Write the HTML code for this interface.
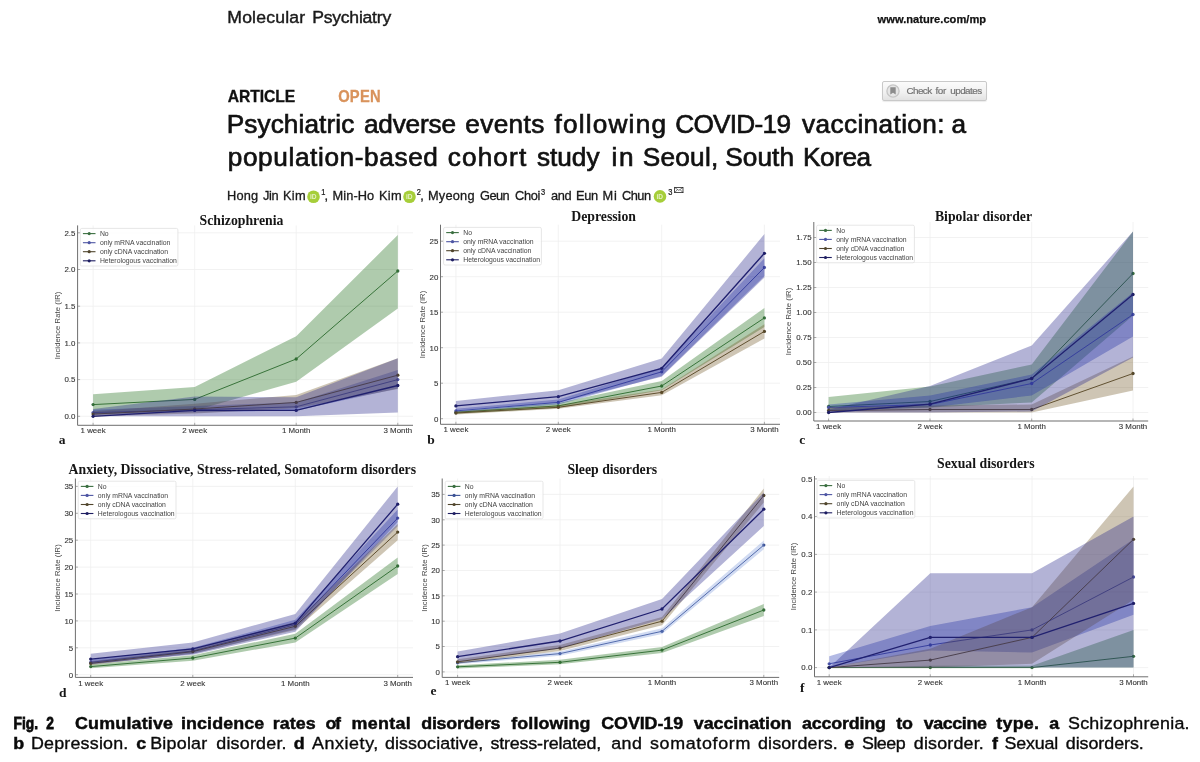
<!DOCTYPE html>
<html><head><meta charset="utf-8"><title>Fig 2</title>
<style>
html,body{margin:0;padding:0;background:#fff;}
body{width:1200px;height:762px;position:relative;overflow:hidden;font-family:"Liberation Sans",sans-serif;color:#111;}
.abs{position:absolute;white-space:nowrap;line-height:1;}
#journal{left:228px;top:8.5px;font-size:17.2px;letter-spacing:0.1px;color:#1a1a1a;}
#url{left:876.5px;top:13.8px;font-size:11.2px;font-weight:bold;color:#111;}
#art{left:227.5px;top:88.2px;font-size:15.6px;font-weight:bold;color:#111;}
#open{left:338px;top:88.2px;font-size:15.6px;font-weight:bold;color:#d8935c;}
#t1{left:227.5px;top:111.5px;font-size:25.6px;color:#111;}
#t2{left:227.5px;top:145px;font-size:25.6px;color:#111;}
#auth{left:228px;top:188.5px;font-size:12.8px;color:#1a1a1a;}
#auth sup{font-size:8px;vertical-align:baseline;position:relative;top:-4.5px;}
.orc{display:inline-block;width:11.5px;height:11.5px;border-radius:50%;background:#a6ce39;vertical-align:-2.4px;margin:0 1.5px 0 2px;position:relative;}
.orc:before{content:"iD";position:absolute;left:0;right:0;top:2.3px;text-align:center;font-size:6.5px;font-weight:bold;color:#e8f3c9;line-height:1;}
#btn{left:881.6px;top:81.2px;width:105.2px;height:19.6px;border:1px solid #c9c9c9;border-radius:2px;box-sizing:border-box;background:linear-gradient(#fbfbfb,#f0f0f0 60%,#e2e2e2);box-shadow:0 1px 1px rgba(0,0,0,.08);}
#btn span{position:absolute;left:24px;top:4.2px;font-size:9.8px;color:#7a7a7a;}
#cap1,#cap2{left:14.3px;font-size:16px;color:#0a0a0a;}
#cap1{top:715.2px;font-weight:bold;}
#cap2{top:735.2px;}
svg#figs{position:absolute;left:0;top:0;}
#charts{filter:blur(0.35px);}
#txt,#icons{filter:blur(0.25px);}
svg text{font-family:"Liberation Sans",sans-serif;}
.gr{stroke:#efefef;stroke-width:0.8;}
.sp{fill:none;stroke:#666;stroke-width:0.95;}
.tk{stroke:#777;stroke-width:0.6;}
.tl{font-size:7.9px;fill:#363636;stroke:#363636;stroke-width:0.12px;}
.yl{font-size:7.6px;fill:#444;}
.lg{font-size:6.85px;fill:#444;}
.tt{font-family:"Liberation Serif",serif !important;font-weight:bold;font-size:13.75px;fill:#151515;}
.lt{font-family:"Liberation Serif",serif !important;font-weight:bold;font-size:13.5px;fill:#151515;}
</style></head>
<body>
<div id="btn" class="abs"><svg width="16" height="16" viewBox="0 0 16 16" style="position:absolute;left:2.2px;top:0.6px;filter:blur(0.3px)"><circle cx="8" cy="8" r="6.1" fill="#e6e6e6" stroke="#c6c6c6" stroke-width="1.3"/><path d="M5.3 4.3h5.4v7.3L8 9.7l-2.7 1.9z" fill="#8c8c8c"/></svg></div>
<svg id="figs" width="1200" height="762" viewBox="0 0 1200 762">
<g id="icons"><circle cx="313.5" cy="196.8" r="6.3" fill="#a6ce39"/><text x="309.9" y="199.20000000000002" style="font-size:6.6px;font-weight:bold" fill="#e4f1c4">iD</text><circle cx="409.5" cy="196.8" r="6.3" fill="#a6ce39"/><text x="405.9" y="199.20000000000002" style="font-size:6.6px;font-weight:bold" fill="#e4f1c4">iD</text><circle cx="660" cy="196.4" r="6.3" fill="#a6ce39"/><text x="656.4" y="198.8" style="font-size:6.6px;font-weight:bold" fill="#e4f1c4">iD</text><g transform="translate(674.2,187)"><rect x="0.4" y="0.4" width="8.4" height="5.2" fill="none" stroke="#222" stroke-width="0.8"/><path d="M0.4 0.4L4.6 3.4L8.8 0.4M0.4 5.6L3.3 2.6M8.8 5.6L5.9 2.6" fill="none" stroke="#222" stroke-width="0.6"/></g></g><g id="charts"><g id="ca">
<line x1="93.1" y1="225.4" x2="93.1" y2="425.3" class="gr"/>
<line x1="194.7" y1="225.4" x2="194.7" y2="425.3" class="gr"/>
<line x1="296.2" y1="225.4" x2="296.2" y2="425.3" class="gr"/>
<line x1="397.8" y1="225.4" x2="397.8" y2="425.3" class="gr"/>
<line x1="77.6" y1="416.3" x2="413.0" y2="416.3" class="gr"/>
<line x1="77.6" y1="379.6" x2="413.0" y2="379.6" class="gr"/>
<line x1="77.6" y1="342.9" x2="413.0" y2="342.9" class="gr"/>
<line x1="77.6" y1="306.2" x2="413.0" y2="306.2" class="gr"/>
<line x1="77.6" y1="269.5" x2="413.0" y2="269.5" class="gr"/>
<line x1="77.6" y1="232.8" x2="413.0" y2="232.8" class="gr"/>
<polyline points="93.1,404.6 194.7,399.4 296.2,359.0 397.8,271.0" fill="none" stroke="#3a6e40" stroke-width="0.95"/>
<circle cx="93.1" cy="404.6" r="1.65" fill="#3a6e40"/>
<circle cx="194.7" cy="399.4" r="1.65" fill="#3a6e40"/>
<circle cx="296.2" cy="359.0" r="1.65" fill="#3a6e40"/>
<circle cx="397.8" cy="271.0" r="1.65" fill="#3a6e40"/>
<polygon points="93.1,394.3 194.7,386.9 296.2,336.3 397.8,235.0 397.8,308.4 296.2,381.8 194.7,410.4 93.1,414.1" fill="#22701c" fill-opacity="0.36"/>
<polyline points="93.1,412.6 194.7,409.7 296.2,406.8 397.8,379.6" fill="none" stroke="#4d55a3" stroke-width="0.95"/>
<circle cx="93.1" cy="412.6" r="1.65" fill="#4d55a3"/>
<circle cx="194.7" cy="409.7" r="1.65" fill="#4d55a3"/>
<circle cx="296.2" cy="406.8" r="1.65" fill="#4d55a3"/>
<circle cx="397.8" cy="379.6" r="1.65" fill="#4d55a3"/>
<polygon points="93.1,409.7 194.7,406.0 296.2,402.4 397.8,370.1 397.8,388.4 296.2,410.4 194.7,412.6 93.1,414.8" fill="#1e32af" fill-opacity="0.34"/>
<polyline points="93.1,414.1 194.7,409.0 296.2,402.4 397.8,375.2" fill="none" stroke="#50452c" stroke-width="0.95"/>
<circle cx="93.1" cy="414.1" r="1.65" fill="#50452c"/>
<circle cx="194.7" cy="409.0" r="1.65" fill="#50452c"/>
<circle cx="296.2" cy="402.4" r="1.65" fill="#50452c"/>
<circle cx="397.8" cy="375.2" r="1.65" fill="#50452c"/>
<polygon points="93.1,411.2 194.7,403.8 296.2,395.0 397.8,358.3 397.8,389.1 296.2,408.2 194.7,413.4 93.1,416.3" fill="#705423" fill-opacity="0.34"/>
<polyline points="93.1,416.3 194.7,410.4 296.2,410.4 397.8,385.5" fill="none" stroke="#1e1e62" stroke-width="1.3"/>
<circle cx="93.1" cy="416.3" r="1.65" fill="#1e1e62"/>
<circle cx="194.7" cy="410.4" r="1.65" fill="#1e1e62"/>
<circle cx="296.2" cy="410.4" r="1.65" fill="#1e1e62"/>
<circle cx="397.8" cy="385.5" r="1.65" fill="#1e1e62"/>
<polygon points="93.1,409.0 194.7,396.5 296.2,397.2 397.8,358.3 397.8,412.6 296.2,416.3 194.7,416.3 93.1,416.3" fill="#26268a" fill-opacity="0.35"/>
<path d="M77.6 225.4V425.3H413.0" class="sp"/>
<line x1="93.1" y1="425.3" x2="93.1" y2="422.8" class="tk"/>
<line x1="194.7" y1="425.3" x2="194.7" y2="422.8" class="tk"/>
<line x1="296.2" y1="425.3" x2="296.2" y2="422.8" class="tk"/>
<line x1="397.8" y1="425.3" x2="397.8" y2="422.8" class="tk"/>
<line x1="77.6" y1="416.3" x2="80.1" y2="416.3" class="tk"/>
<line x1="77.6" y1="379.6" x2="80.1" y2="379.6" class="tk"/>
<line x1="77.6" y1="342.9" x2="80.1" y2="342.9" class="tk"/>
<line x1="77.6" y1="306.2" x2="80.1" y2="306.2" class="tk"/>
<line x1="77.6" y1="269.5" x2="80.1" y2="269.5" class="tk"/>
<line x1="77.6" y1="232.8" x2="80.1" y2="232.8" class="tk"/>
<text x="93.1" y="433.2" class="tl" text-anchor="middle">1 week</text>
<text x="194.7" y="433.2" class="tl" text-anchor="middle">2 week</text>
<text x="296.2" y="433.2" class="tl" text-anchor="middle">1 Month</text>
<text x="397.8" y="433.2" class="tl" text-anchor="middle">3 Month</text>
<text x="75.4" y="419.1" class="tl" text-anchor="end">0.0</text>
<text x="75.4" y="382.4" class="tl" text-anchor="end">0.5</text>
<text x="75.4" y="345.7" class="tl" text-anchor="end">1.0</text>
<text x="75.4" y="309.0" class="tl" text-anchor="end">1.5</text>
<text x="75.4" y="272.3" class="tl" text-anchor="end">2.0</text>
<text x="75.4" y="235.6" class="tl" text-anchor="end">2.5</text>
<text transform="translate(59.5,325.4) rotate(-90)" class="yl" text-anchor="middle" textLength="67.5" lengthAdjust="spacing">Incidence Rate (IR)</text>
<rect x="80.3" y="228.4" width="97.6" height="37.6" rx="1.5" fill="#fff" fill-opacity="0.8" stroke="#dcdcdc" stroke-width="0.7"/>
<line x1="82.9" y1="233.6" x2="95.5" y2="233.6" stroke="#3a6e40" stroke-width="1.1"/>
<circle cx="89.2" cy="233.6" r="1.6" fill="#3a6e40"/>
<text x="99.9" y="235.9" class="lg">No</text>
<line x1="82.9" y1="242.7" x2="95.5" y2="242.7" stroke="#4d55a3" stroke-width="1.1"/>
<circle cx="89.2" cy="242.7" r="1.6" fill="#4d55a3"/>
<text x="99.9" y="245.0" class="lg">only mRNA vaccination</text>
<line x1="82.9" y1="251.7" x2="95.5" y2="251.7" stroke="#50452c" stroke-width="1.1"/>
<circle cx="89.2" cy="251.7" r="1.6" fill="#50452c"/>
<text x="99.9" y="254.0" class="lg">only cDNA vaccination</text>
<line x1="82.9" y1="260.8" x2="95.5" y2="260.8" stroke="#1e1e62" stroke-width="1.1"/>
<circle cx="89.2" cy="260.8" r="1.6" fill="#1e1e62"/>
<text x="99.9" y="263.1" class="lg">Heterologous vaccination</text>
<text x="241.5" y="225.0" class="tt" text-anchor="middle">Schizophrenia</text>
<text x="62.0" y="443.5" class="lt" text-anchor="middle">a</text>
</g>
<g id="cb">
<line x1="455.9" y1="224.7" x2="455.9" y2="424.3" class="gr"/>
<line x1="558.3" y1="224.7" x2="558.3" y2="424.3" class="gr"/>
<line x1="661.7" y1="224.7" x2="661.7" y2="424.3" class="gr"/>
<line x1="764.4" y1="224.7" x2="764.4" y2="424.3" class="gr"/>
<line x1="440.5" y1="418.7" x2="780.0" y2="418.7" class="gr"/>
<line x1="440.5" y1="383.2" x2="780.0" y2="383.2" class="gr"/>
<line x1="440.5" y1="347.7" x2="780.0" y2="347.7" class="gr"/>
<line x1="440.5" y1="312.2" x2="780.0" y2="312.2" class="gr"/>
<line x1="440.5" y1="276.7" x2="780.0" y2="276.7" class="gr"/>
<line x1="440.5" y1="241.2" x2="780.0" y2="241.2" class="gr"/>
<polyline points="455.9,412.3 558.3,405.9 661.7,386.0 764.4,317.9" fill="none" stroke="#3a6e40" stroke-width="0.95"/>
<circle cx="455.9" cy="412.3" r="1.65" fill="#3a6e40"/>
<circle cx="558.3" cy="405.9" r="1.65" fill="#3a6e40"/>
<circle cx="661.7" cy="386.0" r="1.65" fill="#3a6e40"/>
<circle cx="764.4" cy="317.9" r="1.65" fill="#3a6e40"/>
<polygon points="455.9,410.9 558.3,403.1 661.7,381.1 764.4,307.9 764.4,327.1 661.7,390.3 558.3,408.1 455.9,413.7" fill="#22701c" fill-opacity="0.36"/>
<polyline points="455.9,410.9 558.3,402.4 661.7,371.8 764.4,267.5" fill="none" stroke="#4d55a3" stroke-width="0.95"/>
<circle cx="455.9" cy="410.9" r="1.65" fill="#4d55a3"/>
<circle cx="558.3" cy="402.4" r="1.65" fill="#4d55a3"/>
<circle cx="661.7" cy="371.8" r="1.65" fill="#4d55a3"/>
<circle cx="764.4" cy="267.5" r="1.65" fill="#4d55a3"/>
<polygon points="455.9,408.8 558.3,399.5 661.7,367.6 764.4,258.2 764.4,276.0 661.7,376.1 558.3,404.5 455.9,412.3" fill="#1e32af" fill-opacity="0.34"/>
<polyline points="455.9,413.0 558.3,407.3 661.7,392.4 764.4,331.4" fill="none" stroke="#50452c" stroke-width="0.95"/>
<circle cx="455.9" cy="413.0" r="1.65" fill="#50452c"/>
<circle cx="558.3" cy="407.3" r="1.65" fill="#50452c"/>
<circle cx="661.7" cy="392.4" r="1.65" fill="#50452c"/>
<circle cx="764.4" cy="331.4" r="1.65" fill="#50452c"/>
<polygon points="455.9,411.6 558.3,405.2 661.7,389.6 764.4,324.3 764.4,338.5 661.7,395.3 558.3,408.8 455.9,414.4" fill="#705423" fill-opacity="0.34"/>
<polyline points="455.9,405.9 558.3,396.7 661.7,368.3 764.4,253.3" fill="none" stroke="#1e1e62" stroke-width="1.3"/>
<circle cx="455.9" cy="405.9" r="1.65" fill="#1e1e62"/>
<circle cx="558.3" cy="396.7" r="1.65" fill="#1e1e62"/>
<circle cx="661.7" cy="368.3" r="1.65" fill="#1e1e62"/>
<circle cx="764.4" cy="253.3" r="1.65" fill="#1e1e62"/>
<polygon points="455.9,400.9 558.3,390.3 661.7,358.4 764.4,234.1 764.4,277.4 661.7,376.8 558.3,402.4 455.9,410.2" fill="#26268a" fill-opacity="0.35"/>
<path d="M440.5 224.7V424.3H780.0" class="sp"/>
<line x1="455.9" y1="424.3" x2="455.9" y2="421.8" class="tk"/>
<line x1="558.3" y1="424.3" x2="558.3" y2="421.8" class="tk"/>
<line x1="661.7" y1="424.3" x2="661.7" y2="421.8" class="tk"/>
<line x1="764.4" y1="424.3" x2="764.4" y2="421.8" class="tk"/>
<line x1="440.5" y1="418.7" x2="443.0" y2="418.7" class="tk"/>
<line x1="440.5" y1="383.2" x2="443.0" y2="383.2" class="tk"/>
<line x1="440.5" y1="347.7" x2="443.0" y2="347.7" class="tk"/>
<line x1="440.5" y1="312.2" x2="443.0" y2="312.2" class="tk"/>
<line x1="440.5" y1="276.7" x2="443.0" y2="276.7" class="tk"/>
<line x1="440.5" y1="241.2" x2="443.0" y2="241.2" class="tk"/>
<text x="455.9" y="431.8" class="tl" text-anchor="middle">1 week</text>
<text x="558.3" y="431.8" class="tl" text-anchor="middle">2 week</text>
<text x="661.7" y="431.8" class="tl" text-anchor="middle">1 Month</text>
<text x="764.4" y="431.8" class="tl" text-anchor="middle">3 Month</text>
<text x="438.3" y="421.5" class="tl" text-anchor="end">0</text>
<text x="438.3" y="386.0" class="tl" text-anchor="end">5</text>
<text x="438.3" y="350.5" class="tl" text-anchor="end">10</text>
<text x="438.3" y="315.0" class="tl" text-anchor="end">15</text>
<text x="438.3" y="279.5" class="tl" text-anchor="end">20</text>
<text x="438.3" y="244.0" class="tl" text-anchor="end">25</text>
<text transform="translate(424.8,324.5) rotate(-90)" class="yl" text-anchor="middle" textLength="67.5" lengthAdjust="spacing">Incidence Rate (IR)</text>
<rect x="443.6" y="227.4" width="97.8" height="37.6" rx="1.5" fill="#fff" fill-opacity="0.8" stroke="#dcdcdc" stroke-width="0.7"/>
<line x1="446.2" y1="232.6" x2="458.8" y2="232.6" stroke="#3a6e40" stroke-width="1.1"/>
<circle cx="452.5" cy="232.6" r="1.6" fill="#3a6e40"/>
<text x="463.2" y="234.9" class="lg">No</text>
<line x1="446.2" y1="241.7" x2="458.8" y2="241.7" stroke="#4d55a3" stroke-width="1.1"/>
<circle cx="452.5" cy="241.7" r="1.6" fill="#4d55a3"/>
<text x="463.2" y="244.0" class="lg">only mRNA vaccination</text>
<line x1="446.2" y1="250.7" x2="458.8" y2="250.7" stroke="#50452c" stroke-width="1.1"/>
<circle cx="452.5" cy="250.7" r="1.6" fill="#50452c"/>
<text x="463.2" y="253.0" class="lg">only cDNA vaccination</text>
<line x1="446.2" y1="259.8" x2="458.8" y2="259.8" stroke="#1e1e62" stroke-width="1.1"/>
<circle cx="452.5" cy="259.8" r="1.6" fill="#1e1e62"/>
<text x="463.2" y="262.1" class="lg">Heterologous vaccination</text>
<text x="603.6" y="220.8" class="tt" text-anchor="middle">Depression</text>
<text x="431.0" y="443.5" class="lt" text-anchor="middle">b</text>
</g>
<g id="cc">
<line x1="828.6" y1="222.0" x2="828.6" y2="421.0" class="gr"/>
<line x1="930.0" y1="222.0" x2="930.0" y2="421.0" class="gr"/>
<line x1="1031.7" y1="222.0" x2="1031.7" y2="421.0" class="gr"/>
<line x1="1133.0" y1="222.0" x2="1133.0" y2="421.0" class="gr"/>
<line x1="813.8" y1="412.5" x2="1148.2" y2="412.5" class="gr"/>
<line x1="813.8" y1="387.5" x2="1148.2" y2="387.5" class="gr"/>
<line x1="813.8" y1="362.5" x2="1148.2" y2="362.5" class="gr"/>
<line x1="813.8" y1="337.5" x2="1148.2" y2="337.5" class="gr"/>
<line x1="813.8" y1="312.5" x2="1148.2" y2="312.5" class="gr"/>
<line x1="813.8" y1="287.5" x2="1148.2" y2="287.5" class="gr"/>
<line x1="813.8" y1="262.5" x2="1148.2" y2="262.5" class="gr"/>
<line x1="813.8" y1="237.5" x2="1148.2" y2="237.5" class="gr"/>
<polyline points="828.6,406.5 930.0,401.5 1031.7,378.5 1133.0,273.5" fill="none" stroke="#3a6e40" stroke-width="0.95"/>
<circle cx="828.6" cy="406.5" r="1.65" fill="#3a6e40"/>
<circle cx="930.0" cy="401.5" r="1.65" fill="#3a6e40"/>
<circle cx="1031.7" cy="378.5" r="1.65" fill="#3a6e40"/>
<circle cx="1133.0" cy="273.5" r="1.65" fill="#3a6e40"/>
<polygon points="828.6,397.0 930.0,386.5 1031.7,364.5 1133.0,231.5 1133.0,315.5 1031.7,402.5 930.0,407.5 828.6,410.5" fill="#22701c" fill-opacity="0.36"/>
<polyline points="828.6,407.5 930.0,404.5 1031.7,383.5 1133.0,314.5" fill="none" stroke="#4d55a3" stroke-width="0.95"/>
<circle cx="828.6" cy="407.5" r="1.65" fill="#4d55a3"/>
<circle cx="930.0" cy="404.5" r="1.65" fill="#4d55a3"/>
<circle cx="1031.7" cy="383.5" r="1.65" fill="#4d55a3"/>
<circle cx="1133.0" cy="314.5" r="1.65" fill="#4d55a3"/>
<polygon points="828.6,404.5 930.0,395.5 1031.7,374.5 1133.0,292.5 1133.0,336.5 1031.7,395.5 930.0,407.5 828.6,410.5" fill="#1e32af" fill-opacity="0.34"/>
<polyline points="828.6,410.5 930.0,409.5 1031.7,409.5 1133.0,373.5" fill="none" stroke="#50452c" stroke-width="0.95"/>
<circle cx="828.6" cy="410.5" r="1.65" fill="#50452c"/>
<circle cx="930.0" cy="409.5" r="1.65" fill="#50452c"/>
<circle cx="1031.7" cy="409.5" r="1.65" fill="#50452c"/>
<circle cx="1133.0" cy="373.5" r="1.65" fill="#50452c"/>
<polygon points="828.6,407.5 930.0,405.5 1031.7,404.5 1133.0,356.5 1133.0,390.5 1031.7,412.5 930.0,412.5 828.6,412.5" fill="#705423" fill-opacity="0.34"/>
<polyline points="828.6,412.5 930.0,404.2 1031.7,378.5 1133.0,294.5" fill="none" stroke="#1e1e62" stroke-width="1.3"/>
<circle cx="828.6" cy="412.5" r="1.65" fill="#1e1e62"/>
<circle cx="930.0" cy="404.2" r="1.65" fill="#1e1e62"/>
<circle cx="1031.7" cy="378.5" r="1.65" fill="#1e1e62"/>
<circle cx="1133.0" cy="294.5" r="1.65" fill="#1e1e62"/>
<polygon points="828.6,409.5 930.0,386.0 1031.7,345.5 1133.0,231.5 1133.0,357.5 1031.7,411.5 930.0,412.5 828.6,412.5" fill="#26268a" fill-opacity="0.35"/>
<path d="M813.8 222.0V421.0H1148.2" class="sp"/>
<line x1="828.6" y1="421.0" x2="828.6" y2="418.5" class="tk"/>
<line x1="930.0" y1="421.0" x2="930.0" y2="418.5" class="tk"/>
<line x1="1031.7" y1="421.0" x2="1031.7" y2="418.5" class="tk"/>
<line x1="1133.0" y1="421.0" x2="1133.0" y2="418.5" class="tk"/>
<line x1="813.8" y1="412.5" x2="816.3" y2="412.5" class="tk"/>
<line x1="813.8" y1="387.5" x2="816.3" y2="387.5" class="tk"/>
<line x1="813.8" y1="362.5" x2="816.3" y2="362.5" class="tk"/>
<line x1="813.8" y1="337.5" x2="816.3" y2="337.5" class="tk"/>
<line x1="813.8" y1="312.5" x2="816.3" y2="312.5" class="tk"/>
<line x1="813.8" y1="287.5" x2="816.3" y2="287.5" class="tk"/>
<line x1="813.8" y1="262.5" x2="816.3" y2="262.5" class="tk"/>
<line x1="813.8" y1="237.5" x2="816.3" y2="237.5" class="tk"/>
<text x="828.6" y="428.9" class="tl" text-anchor="middle">1 week</text>
<text x="930.0" y="428.9" class="tl" text-anchor="middle">2 week</text>
<text x="1031.7" y="428.9" class="tl" text-anchor="middle">1 Month</text>
<text x="1133.0" y="428.9" class="tl" text-anchor="middle">3 Month</text>
<text x="811.6" y="415.3" class="tl" text-anchor="end">0.00</text>
<text x="811.6" y="390.3" class="tl" text-anchor="end">0.25</text>
<text x="811.6" y="365.3" class="tl" text-anchor="end">0.50</text>
<text x="811.6" y="340.3" class="tl" text-anchor="end">0.75</text>
<text x="811.6" y="315.3" class="tl" text-anchor="end">1.00</text>
<text x="811.6" y="290.3" class="tl" text-anchor="end">1.25</text>
<text x="811.6" y="265.3" class="tl" text-anchor="end">1.50</text>
<text x="811.6" y="240.3" class="tl" text-anchor="end">1.75</text>
<text transform="translate(790.7,321.5) rotate(-90)" class="yl" text-anchor="middle" textLength="67.5" lengthAdjust="spacing">Incidence Rate (IR)</text>
<rect x="816.6" y="225.2" width="97.8" height="37.6" rx="1.5" fill="#fff" fill-opacity="0.8" stroke="#dcdcdc" stroke-width="0.7"/>
<line x1="819.2" y1="230.4" x2="831.8" y2="230.4" stroke="#3a6e40" stroke-width="1.1"/>
<circle cx="825.5" cy="230.4" r="1.6" fill="#3a6e40"/>
<text x="836.2" y="232.7" class="lg">No</text>
<line x1="819.2" y1="239.4" x2="831.8" y2="239.4" stroke="#4d55a3" stroke-width="1.1"/>
<circle cx="825.5" cy="239.4" r="1.6" fill="#4d55a3"/>
<text x="836.2" y="241.8" class="lg">only mRNA vaccination</text>
<line x1="819.2" y1="248.5" x2="831.8" y2="248.5" stroke="#50452c" stroke-width="1.1"/>
<circle cx="825.5" cy="248.5" r="1.6" fill="#50452c"/>
<text x="836.2" y="250.8" class="lg">only cDNA vaccination</text>
<line x1="819.2" y1="257.5" x2="831.8" y2="257.5" stroke="#1e1e62" stroke-width="1.1"/>
<circle cx="825.5" cy="257.5" r="1.6" fill="#1e1e62"/>
<text x="836.2" y="259.8" class="lg">Heterologous vaccination</text>
<text x="983.5" y="220.8" class="tt" text-anchor="middle">Bipolar disorder</text>
<text x="802.3" y="443.5" class="lt" text-anchor="middle">c</text>
</g>
<g id="cd">
<line x1="90.7" y1="478.5" x2="90.7" y2="677.4" class="gr"/>
<line x1="192.8" y1="478.5" x2="192.8" y2="677.4" class="gr"/>
<line x1="295.3" y1="478.5" x2="295.3" y2="677.4" class="gr"/>
<line x1="397.7" y1="478.5" x2="397.7" y2="677.4" class="gr"/>
<line x1="75.4" y1="674.7" x2="413.0" y2="674.7" class="gr"/>
<line x1="75.4" y1="647.8" x2="413.0" y2="647.8" class="gr"/>
<line x1="75.4" y1="620.9" x2="413.0" y2="620.9" class="gr"/>
<line x1="75.4" y1="594.0" x2="413.0" y2="594.0" class="gr"/>
<line x1="75.4" y1="567.1" x2="413.0" y2="567.1" class="gr"/>
<line x1="75.4" y1="540.2" x2="413.0" y2="540.2" class="gr"/>
<line x1="75.4" y1="513.3" x2="413.0" y2="513.3" class="gr"/>
<line x1="75.4" y1="486.4" x2="413.0" y2="486.4" class="gr"/>
<polyline points="90.7,666.6 192.8,658.0 295.3,638.1 397.7,566.0" fill="none" stroke="#3a6e40" stroke-width="0.95"/>
<circle cx="90.7" cy="666.6" r="1.65" fill="#3a6e40"/>
<circle cx="192.8" cy="658.0" r="1.65" fill="#3a6e40"/>
<circle cx="295.3" cy="638.1" r="1.65" fill="#3a6e40"/>
<circle cx="397.7" cy="566.0" r="1.65" fill="#3a6e40"/>
<polygon points="90.7,664.5 192.8,655.3 295.3,633.8 397.7,557.4 397.7,574.1 295.3,642.4 192.8,660.7 90.7,668.2" fill="#22701c" fill-opacity="0.36"/>
<polyline points="90.7,662.3 192.8,651.0 295.3,624.7 397.7,518.1" fill="none" stroke="#4d55a3" stroke-width="0.95"/>
<circle cx="90.7" cy="662.3" r="1.65" fill="#4d55a3"/>
<circle cx="192.8" cy="651.0" r="1.65" fill="#4d55a3"/>
<circle cx="295.3" cy="624.7" r="1.65" fill="#4d55a3"/>
<circle cx="397.7" cy="518.1" r="1.65" fill="#4d55a3"/>
<polygon points="90.7,659.6 192.8,647.8 295.3,619.8 397.7,509.5 397.7,526.2 295.3,629.0 192.8,653.7 90.7,664.5" fill="#1e32af" fill-opacity="0.34"/>
<polyline points="90.7,663.4 192.8,651.6 295.3,626.3 397.7,532.1" fill="none" stroke="#50452c" stroke-width="0.95"/>
<circle cx="90.7" cy="663.4" r="1.65" fill="#50452c"/>
<circle cx="192.8" cy="651.6" r="1.65" fill="#50452c"/>
<circle cx="295.3" cy="626.3" r="1.65" fill="#50452c"/>
<circle cx="397.7" cy="532.1" r="1.65" fill="#50452c"/>
<polygon points="90.7,661.2 192.8,648.9 295.3,622.0 397.7,524.1 397.7,540.2 295.3,630.0 192.8,653.7 90.7,665.0" fill="#705423" fill-opacity="0.34"/>
<polyline points="90.7,659.1 192.8,648.9 295.3,623.1 397.7,504.2" fill="none" stroke="#1e1e62" stroke-width="1.3"/>
<circle cx="90.7" cy="659.1" r="1.65" fill="#1e1e62"/>
<circle cx="192.8" cy="648.9" r="1.65" fill="#1e1e62"/>
<circle cx="295.3" cy="623.1" r="1.65" fill="#1e1e62"/>
<circle cx="397.7" cy="504.2" r="1.65" fill="#1e1e62"/>
<polygon points="90.7,653.7 192.8,642.4 295.3,613.9 397.7,486.4 397.7,521.9 295.3,631.7 192.8,654.8 90.7,663.9" fill="#26268a" fill-opacity="0.35"/>
<path d="M75.4 478.5V677.4H413.0" class="sp"/>
<line x1="90.7" y1="677.4" x2="90.7" y2="674.9" class="tk"/>
<line x1="192.8" y1="677.4" x2="192.8" y2="674.9" class="tk"/>
<line x1="295.3" y1="677.4" x2="295.3" y2="674.9" class="tk"/>
<line x1="397.7" y1="677.4" x2="397.7" y2="674.9" class="tk"/>
<line x1="75.4" y1="674.7" x2="77.9" y2="674.7" class="tk"/>
<line x1="75.4" y1="647.8" x2="77.9" y2="647.8" class="tk"/>
<line x1="75.4" y1="620.9" x2="77.9" y2="620.9" class="tk"/>
<line x1="75.4" y1="594.0" x2="77.9" y2="594.0" class="tk"/>
<line x1="75.4" y1="567.1" x2="77.9" y2="567.1" class="tk"/>
<line x1="75.4" y1="540.2" x2="77.9" y2="540.2" class="tk"/>
<line x1="75.4" y1="513.3" x2="77.9" y2="513.3" class="tk"/>
<line x1="75.4" y1="486.4" x2="77.9" y2="486.4" class="tk"/>
<text x="90.7" y="685.6" class="tl" text-anchor="middle">1 week</text>
<text x="192.8" y="685.6" class="tl" text-anchor="middle">2 week</text>
<text x="295.3" y="685.6" class="tl" text-anchor="middle">1 Month</text>
<text x="397.7" y="685.6" class="tl" text-anchor="middle">3 Month</text>
<text x="73.2" y="677.5" class="tl" text-anchor="end">0</text>
<text x="73.2" y="650.6" class="tl" text-anchor="end">5</text>
<text x="73.2" y="623.7" class="tl" text-anchor="end">10</text>
<text x="73.2" y="596.8" class="tl" text-anchor="end">15</text>
<text x="73.2" y="569.9" class="tl" text-anchor="end">20</text>
<text x="73.2" y="543.0" class="tl" text-anchor="end">25</text>
<text x="73.2" y="516.1" class="tl" text-anchor="end">30</text>
<text x="73.2" y="489.2" class="tl" text-anchor="end">35</text>
<text transform="translate(59.7,578.0) rotate(-90)" class="yl" text-anchor="middle" textLength="67.5" lengthAdjust="spacing">Incidence Rate (IR)</text>
<rect x="78.2" y="481.2" width="97.8" height="37.6" rx="1.5" fill="#fff" fill-opacity="0.8" stroke="#dcdcdc" stroke-width="0.7"/>
<line x1="80.8" y1="486.4" x2="93.4" y2="486.4" stroke="#3a6e40" stroke-width="1.1"/>
<circle cx="87.1" cy="486.4" r="1.6" fill="#3a6e40"/>
<text x="97.8" y="488.7" class="lg">No</text>
<line x1="80.8" y1="495.4" x2="93.4" y2="495.4" stroke="#4d55a3" stroke-width="1.1"/>
<circle cx="87.1" cy="495.4" r="1.6" fill="#4d55a3"/>
<text x="97.8" y="497.8" class="lg">only mRNA vaccination</text>
<line x1="80.8" y1="504.5" x2="93.4" y2="504.5" stroke="#50452c" stroke-width="1.1"/>
<circle cx="87.1" cy="504.5" r="1.6" fill="#50452c"/>
<text x="97.8" y="506.8" class="lg">only cDNA vaccination</text>
<line x1="80.8" y1="513.5" x2="93.4" y2="513.5" stroke="#1e1e62" stroke-width="1.1"/>
<circle cx="87.1" cy="513.5" r="1.6" fill="#1e1e62"/>
<text x="97.8" y="515.8" class="lg">Heterologous vaccination</text>
<text x="242.3" y="474.0" class="tt" text-anchor="middle">Anxiety, Dissociative, Stress-related, Somatoform disorders</text>
<text x="62.8" y="697.0" class="lt" text-anchor="middle">d</text>
</g>
<g id="ce">
<line x1="457.6" y1="478.5" x2="457.6" y2="677.4" class="gr"/>
<line x1="560.0" y1="478.5" x2="560.0" y2="677.4" class="gr"/>
<line x1="662.0" y1="478.5" x2="662.0" y2="677.4" class="gr"/>
<line x1="763.8" y1="478.5" x2="763.8" y2="677.4" class="gr"/>
<line x1="442.2" y1="671.9" x2="779.2" y2="671.9" class="gr"/>
<line x1="442.2" y1="646.5" x2="779.2" y2="646.5" class="gr"/>
<line x1="442.2" y1="621.2" x2="779.2" y2="621.2" class="gr"/>
<line x1="442.2" y1="595.8" x2="779.2" y2="595.8" class="gr"/>
<line x1="442.2" y1="570.5" x2="779.2" y2="570.5" class="gr"/>
<line x1="442.2" y1="545.1" x2="779.2" y2="545.1" class="gr"/>
<line x1="442.2" y1="519.8" x2="779.2" y2="519.8" class="gr"/>
<line x1="442.2" y1="494.4" x2="779.2" y2="494.4" class="gr"/>
<polyline points="457.6,666.8 560.0,662.3 662.0,650.1 763.8,610.0" fill="none" stroke="#3a6e40" stroke-width="0.95"/>
<circle cx="457.6" cy="666.8" r="1.65" fill="#3a6e40"/>
<circle cx="560.0" cy="662.3" r="1.65" fill="#3a6e40"/>
<circle cx="662.0" cy="650.1" r="1.65" fill="#3a6e40"/>
<circle cx="763.8" cy="610.0" r="1.65" fill="#3a6e40"/>
<polygon points="457.6,665.3 560.0,659.7 662.0,647.1 763.8,604.0 763.8,616.1 662.0,653.1 560.0,664.3 457.6,668.4" fill="#22701c" fill-opacity="0.36"/>
<polyline points="457.6,662.8 560.0,653.6 662.0,631.3 763.8,545.1" fill="none" stroke="#3c5294" stroke-width="0.95"/>
<circle cx="457.6" cy="662.8" r="1.65" fill="#3c5294"/>
<circle cx="560.0" cy="653.6" r="1.65" fill="#3c5294"/>
<circle cx="662.0" cy="631.3" r="1.65" fill="#3c5294"/>
<circle cx="763.8" cy="545.1" r="1.65" fill="#3c5294"/>
<polygon points="457.6,661.3 560.0,651.6 662.0,628.3 763.8,540.6 763.8,549.2 662.0,633.9 560.0,655.7 457.6,664.3" fill="#6f8fd6" fill-opacity="0.32"/>
<polyline points="457.6,661.8 560.0,648.1 662.0,621.2 763.8,495.5" fill="none" stroke="#50452c" stroke-width="0.95"/>
<circle cx="457.6" cy="661.8" r="1.65" fill="#50452c"/>
<circle cx="560.0" cy="648.1" r="1.65" fill="#50452c"/>
<circle cx="662.0" cy="621.2" r="1.65" fill="#50452c"/>
<circle cx="763.8" cy="495.5" r="1.65" fill="#50452c"/>
<polygon points="457.6,659.2 560.0,645.0 662.0,617.1 763.8,488.4 763.8,502.6 662.0,625.3 560.0,651.1 457.6,663.8" fill="#705423" fill-opacity="0.34"/>
<polyline points="457.6,656.7 560.0,641.0 662.0,609.0 763.8,509.2" fill="none" stroke="#1e1e62" stroke-width="1.3"/>
<circle cx="457.6" cy="656.7" r="1.65" fill="#1e1e62"/>
<circle cx="560.0" cy="641.0" r="1.65" fill="#1e1e62"/>
<circle cx="662.0" cy="609.0" r="1.65" fill="#1e1e62"/>
<circle cx="763.8" cy="509.2" r="1.65" fill="#1e1e62"/>
<polygon points="457.6,651.6 560.0,633.4 662.0,598.9 763.8,492.4 763.8,525.9 662.0,619.2 560.0,648.6 457.6,661.8" fill="#26268a" fill-opacity="0.35"/>
<path d="M442.2 478.5V677.4H779.2" class="sp"/>
<line x1="457.6" y1="677.4" x2="457.6" y2="674.9" class="tk"/>
<line x1="560.0" y1="677.4" x2="560.0" y2="674.9" class="tk"/>
<line x1="662.0" y1="677.4" x2="662.0" y2="674.9" class="tk"/>
<line x1="763.8" y1="677.4" x2="763.8" y2="674.9" class="tk"/>
<line x1="442.2" y1="671.9" x2="444.7" y2="671.9" class="tk"/>
<line x1="442.2" y1="646.5" x2="444.7" y2="646.5" class="tk"/>
<line x1="442.2" y1="621.2" x2="444.7" y2="621.2" class="tk"/>
<line x1="442.2" y1="595.8" x2="444.7" y2="595.8" class="tk"/>
<line x1="442.2" y1="570.5" x2="444.7" y2="570.5" class="tk"/>
<line x1="442.2" y1="545.1" x2="444.7" y2="545.1" class="tk"/>
<line x1="442.2" y1="519.8" x2="444.7" y2="519.8" class="tk"/>
<line x1="442.2" y1="494.4" x2="444.7" y2="494.4" class="tk"/>
<text x="457.6" y="685.4" class="tl" text-anchor="middle">1 week</text>
<text x="560.0" y="685.4" class="tl" text-anchor="middle">2 week</text>
<text x="662.0" y="685.4" class="tl" text-anchor="middle">1 Month</text>
<text x="763.8" y="685.4" class="tl" text-anchor="middle">3 Month</text>
<text x="440.0" y="674.7" class="tl" text-anchor="end">0</text>
<text x="440.0" y="649.3" class="tl" text-anchor="end">5</text>
<text x="440.0" y="624.0" class="tl" text-anchor="end">10</text>
<text x="440.0" y="598.6" class="tl" text-anchor="end">15</text>
<text x="440.0" y="573.3" class="tl" text-anchor="end">20</text>
<text x="440.0" y="547.9" class="tl" text-anchor="end">25</text>
<text x="440.0" y="522.6" class="tl" text-anchor="end">30</text>
<text x="440.0" y="497.2" class="tl" text-anchor="end">35</text>
<text transform="translate(426.5,578.0) rotate(-90)" class="yl" text-anchor="middle" textLength="67.5" lengthAdjust="spacing">Incidence Rate (IR)</text>
<rect x="445.2" y="481.2" width="97.8" height="37.6" rx="1.5" fill="#fff" fill-opacity="0.8" stroke="#dcdcdc" stroke-width="0.7"/>
<line x1="447.8" y1="486.4" x2="460.4" y2="486.4" stroke="#3a6e40" stroke-width="1.1"/>
<circle cx="454.1" cy="486.4" r="1.6" fill="#3a6e40"/>
<text x="464.8" y="488.7" class="lg">No</text>
<line x1="447.8" y1="495.4" x2="460.4" y2="495.4" stroke="#3c5294" stroke-width="1.1"/>
<circle cx="454.1" cy="495.4" r="1.6" fill="#3c5294"/>
<text x="464.8" y="497.8" class="lg">only mRNA vaccination</text>
<line x1="447.8" y1="504.5" x2="460.4" y2="504.5" stroke="#50452c" stroke-width="1.1"/>
<circle cx="454.1" cy="504.5" r="1.6" fill="#50452c"/>
<text x="464.8" y="506.8" class="lg">only cDNA vaccination</text>
<line x1="447.8" y1="513.5" x2="460.4" y2="513.5" stroke="#1e1e62" stroke-width="1.1"/>
<circle cx="454.1" cy="513.5" r="1.6" fill="#1e1e62"/>
<text x="464.8" y="515.8" class="lg">Heterologous vaccination</text>
<text x="612.3" y="474.0" class="tt" text-anchor="middle">Sleep disorders</text>
<text x="433.5" y="694.6" class="lt" text-anchor="middle">e</text>
</g>
<g id="cf">
<line x1="829.2" y1="476.0" x2="829.2" y2="676.8" class="gr"/>
<line x1="930.3" y1="476.0" x2="930.3" y2="676.8" class="gr"/>
<line x1="1032.0" y1="476.0" x2="1032.0" y2="676.8" class="gr"/>
<line x1="1133.5" y1="476.0" x2="1133.5" y2="676.8" class="gr"/>
<line x1="814.5" y1="667.6" x2="1148.2" y2="667.6" class="gr"/>
<line x1="814.5" y1="629.9" x2="1148.2" y2="629.9" class="gr"/>
<line x1="814.5" y1="592.1" x2="1148.2" y2="592.1" class="gr"/>
<line x1="814.5" y1="554.4" x2="1148.2" y2="554.4" class="gr"/>
<line x1="814.5" y1="516.6" x2="1148.2" y2="516.6" class="gr"/>
<line x1="814.5" y1="478.9" x2="1148.2" y2="478.9" class="gr"/>
<polyline points="829.2,667.6 930.3,667.6 1032.0,667.6 1133.5,656.3" fill="none" stroke="#3a6e40" stroke-width="0.95"/>
<circle cx="829.2" cy="667.6" r="1.65" fill="#3a6e40"/>
<circle cx="930.3" cy="667.6" r="1.65" fill="#3a6e40"/>
<circle cx="1032.0" cy="667.6" r="1.65" fill="#3a6e40"/>
<circle cx="1133.5" cy="656.3" r="1.65" fill="#3a6e40"/>
<polygon points="829.2,667.6 930.3,665.7 1032.0,665.7 1133.5,629.9 1133.5,667.6 1032.0,667.6 930.3,667.6 829.2,667.6" fill="#22701c" fill-opacity="0.36"/>
<polyline points="829.2,663.8 930.3,645.0 1032.0,629.9 1133.5,577.0" fill="none" stroke="#4d55a3" stroke-width="0.95"/>
<circle cx="829.2" cy="663.8" r="1.65" fill="#4d55a3"/>
<circle cx="930.3" cy="645.0" r="1.65" fill="#4d55a3"/>
<circle cx="1032.0" cy="629.9" r="1.65" fill="#4d55a3"/>
<circle cx="1133.5" cy="577.0" r="1.65" fill="#4d55a3"/>
<polygon points="829.2,656.3 930.3,626.1 1032.0,607.2 1133.5,539.3 1133.5,614.8 1032.0,652.5 930.3,650.6 829.2,667.6" fill="#1e32af" fill-opacity="0.34"/>
<polyline points="829.2,667.6 930.3,660.1 1032.0,637.4 1133.5,539.3" fill="none" stroke="#50452c" stroke-width="0.95"/>
<circle cx="829.2" cy="667.6" r="1.65" fill="#50452c"/>
<circle cx="930.3" cy="660.1" r="1.65" fill="#50452c"/>
<circle cx="1032.0" cy="637.4" r="1.65" fill="#50452c"/>
<circle cx="1133.5" cy="539.3" r="1.65" fill="#50452c"/>
<polygon points="829.2,667.6 930.3,648.7 1032.0,607.2 1133.5,486.4 1133.5,599.7 1032.0,663.8 930.3,667.6 829.2,667.6" fill="#705423" fill-opacity="0.34"/>
<polyline points="829.2,667.6 930.3,637.4 1032.0,637.4 1133.5,603.4" fill="none" stroke="#1e1e62" stroke-width="1.3"/>
<circle cx="829.2" cy="667.6" r="1.65" fill="#1e1e62"/>
<circle cx="930.3" cy="637.4" r="1.65" fill="#1e1e62"/>
<circle cx="1032.0" cy="637.4" r="1.65" fill="#1e1e62"/>
<circle cx="1133.5" cy="603.4" r="1.65" fill="#1e1e62"/>
<polygon points="829.2,667.6 930.3,573.2 1032.0,573.2 1133.5,516.6 1133.5,667.6 1032.0,667.6 930.3,667.6 829.2,667.6" fill="#26268a" fill-opacity="0.35"/>
<path d="M814.5 476.0V676.8H1148.2" class="sp"/>
<line x1="829.2" y1="676.8" x2="829.2" y2="674.3" class="tk"/>
<line x1="930.3" y1="676.8" x2="930.3" y2="674.3" class="tk"/>
<line x1="1032.0" y1="676.8" x2="1032.0" y2="674.3" class="tk"/>
<line x1="1133.5" y1="676.8" x2="1133.5" y2="674.3" class="tk"/>
<line x1="814.5" y1="667.6" x2="817.0" y2="667.6" class="tk"/>
<line x1="814.5" y1="629.9" x2="817.0" y2="629.9" class="tk"/>
<line x1="814.5" y1="592.1" x2="817.0" y2="592.1" class="tk"/>
<line x1="814.5" y1="554.4" x2="817.0" y2="554.4" class="tk"/>
<line x1="814.5" y1="516.6" x2="817.0" y2="516.6" class="tk"/>
<line x1="814.5" y1="478.9" x2="817.0" y2="478.9" class="tk"/>
<text x="829.2" y="684.5" class="tl" text-anchor="middle">1 week</text>
<text x="930.3" y="684.5" class="tl" text-anchor="middle">2 week</text>
<text x="1032.0" y="684.5" class="tl" text-anchor="middle">1 Month</text>
<text x="1133.5" y="684.5" class="tl" text-anchor="middle">3 Month</text>
<text x="812.3" y="670.4" class="tl" text-anchor="end">0.0</text>
<text x="812.3" y="632.7" class="tl" text-anchor="end">0.1</text>
<text x="812.3" y="594.9" class="tl" text-anchor="end">0.2</text>
<text x="812.3" y="557.2" class="tl" text-anchor="end">0.3</text>
<text x="812.3" y="519.4" class="tl" text-anchor="end">0.4</text>
<text x="812.3" y="481.7" class="tl" text-anchor="end">0.5</text>
<text transform="translate(796.3,576.4) rotate(-90)" class="yl" text-anchor="middle" textLength="67.5" lengthAdjust="spacing">Incidence Rate (IR)</text>
<rect x="817.0" y="480.4" width="97.8" height="37.6" rx="1.5" fill="#fff" fill-opacity="0.8" stroke="#dcdcdc" stroke-width="0.7"/>
<line x1="819.6" y1="485.6" x2="832.2" y2="485.6" stroke="#3a6e40" stroke-width="1.1"/>
<circle cx="825.9" cy="485.6" r="1.6" fill="#3a6e40"/>
<text x="836.6" y="487.9" class="lg">No</text>
<line x1="819.6" y1="494.6" x2="832.2" y2="494.6" stroke="#4d55a3" stroke-width="1.1"/>
<circle cx="825.9" cy="494.6" r="1.6" fill="#4d55a3"/>
<text x="836.6" y="496.9" class="lg">only mRNA vaccination</text>
<line x1="819.6" y1="503.7" x2="832.2" y2="503.7" stroke="#50452c" stroke-width="1.1"/>
<circle cx="825.9" cy="503.7" r="1.6" fill="#50452c"/>
<text x="836.6" y="506.0" class="lg">only cDNA vaccination</text>
<line x1="819.6" y1="512.8" x2="832.2" y2="512.8" stroke="#1e1e62" stroke-width="1.1"/>
<circle cx="825.9" cy="512.8" r="1.6" fill="#1e1e62"/>
<text x="836.6" y="515.0" class="lg">Heterologous vaccination</text>
<text x="985.8" y="468.0" class="tt" text-anchor="middle">Sexual disorders</text>
<text x="802.3" y="692.0" class="lt" text-anchor="middle">f</text>
</g></g>
<g id="txt">
<text transform="translate(227.27,23.00) scale(1.03,1)" fill="#1a1a1a" style="font-size:17.1px;letter-spacing:0.193px;stroke:#1a1a1a;stroke-width:0.42px;">Molecular</text>
<text transform="translate(312.17,23.00) scale(1.03,1)" fill="#1a1a1a" style="font-size:17.1px;letter-spacing:-0.231px;stroke:#1a1a1a;stroke-width:0.42px;">Psychiatry</text>
<text x="877.60" y="22.80" fill="#111" style="font-size:11.1px;letter-spacing:0.025px;font-weight:bold;stroke:#111;stroke-width:0.25px;">www.nature.com/mp</text>
<text x="227.70" y="101.60" fill="#111" style="font-size:15.7px;letter-spacing:-0.085px;font-weight:bold;stroke:#111;stroke-width:0.3px;">ARTICLE</text>
<text transform="translate(338.20,101.60) scale(0.94,1)" fill="#d9935c" style="font-size:15.7px;letter-spacing:0.219px;font-weight:bold;stroke:#d9935c;stroke-width:0.3px;">OPEN</text>
<text transform="translate(226.66,133.10) scale(1.045,1)" fill="#111" style="font-size:25.1px;letter-spacing:0.085px;stroke:#111;stroke-width:0.65px;">Psychiatric</text>
<text transform="translate(363.95,133.10) scale(1.045,1)" fill="#111" style="font-size:25.1px;letter-spacing:-0.199px;stroke:#111;stroke-width:0.65px;">adverse</text>
<text transform="translate(465.20,133.10) scale(1.045,1)" fill="#111" style="font-size:25.1px;letter-spacing:0.355px;stroke:#111;stroke-width:0.65px;">events</text>
<text transform="translate(554.50,133.10) scale(1.045,1)" fill="#111" style="font-size:25.1px;letter-spacing:1.132px;stroke:#111;stroke-width:0.65px;">following</text>
<text transform="translate(675.21,133.10) scale(1.045,1)" fill="#111" style="font-size:25.1px;letter-spacing:-0.705px;stroke:#111;stroke-width:0.65px;">COVID-19</text>
<text transform="translate(802.00,133.10) scale(1.045,1)" fill="#111" style="font-size:25.1px;letter-spacing:0.355px;stroke:#111;stroke-width:0.65px;">vaccination:</text>
<text transform="translate(951.46,133.10) scale(1.045,1)" fill="#111" style="font-size:25.1px;letter-spacing:0.000px;stroke:#111;stroke-width:0.65px;">a</text>
<text transform="translate(227.71,166.40) scale(1.045,1)" fill="#111" style="font-size:25.1px;letter-spacing:0.580px;stroke:#111;stroke-width:0.65px;">population-based</text>
<text transform="translate(447.70,166.40) scale(1.045,1)" fill="#111" style="font-size:25.1px;letter-spacing:1.078px;stroke:#111;stroke-width:0.65px;">cohort</text>
<text transform="translate(537.00,166.40) scale(1.045,1)" fill="#111" style="font-size:25.1px;letter-spacing:-0.036px;stroke:#111;stroke-width:0.65px;">study</text>
<text transform="translate(611.46,166.40) scale(1.045,1)" fill="#111" style="font-size:25.1px;letter-spacing:1.564px;stroke:#111;stroke-width:0.65px;">in</text>
<text transform="translate(642.71,166.40) scale(1.045,1)" fill="#111" style="font-size:25.1px;letter-spacing:0.240px;stroke:#111;stroke-width:0.65px;">Seoul,</text>
<text transform="translate(725.21,166.40) scale(1.045,1)" fill="#111" style="font-size:25.1px;letter-spacing:0.064px;stroke:#111;stroke-width:0.65px;">South</text>
<text transform="translate(802.91,166.40) scale(1.045,1)" fill="#111" style="font-size:25.1px;letter-spacing:-0.402px;stroke:#111;stroke-width:0.65px;">Korea</text>
<text x="227.00" y="200.00" fill="#1a1a1a" style="font-size:12.8px;letter-spacing:0.175px;stroke:#1a1a1a;stroke-width:0.3px;">Hong</text>
<text x="263.00" y="200.00" fill="#1a1a1a" style="font-size:12.8px;letter-spacing:-0.321px;stroke:#1a1a1a;stroke-width:0.3px;">Jin</text>
<text x="283.00" y="200.00" fill="#1a1a1a" style="font-size:12.8px;letter-spacing:0.311px;stroke:#1a1a1a;stroke-width:0.3px;">Kim</text>
<text x="324.60" y="200.00" fill="#1a1a1a" style="font-size:12.8px;letter-spacing:0.000px;stroke:#1a1a1a;stroke-width:0.3px;">,</text>
<text x="332.60" y="200.00" fill="#1a1a1a" style="font-size:12.8px;letter-spacing:0.055px;stroke:#1a1a1a;stroke-width:0.3px;">Min-Ho</text>
<text x="379.00" y="200.00" fill="#1a1a1a" style="font-size:12.8px;letter-spacing:0.311px;stroke:#1a1a1a;stroke-width:0.3px;">Kim</text>
<text x="420.20" y="200.00" fill="#1a1a1a" style="font-size:12.8px;letter-spacing:0.000px;stroke:#1a1a1a;stroke-width:0.3px;">,</text>
<text x="428.00" y="200.00" fill="#1a1a1a" style="font-size:12.8px;letter-spacing:0.198px;stroke:#1a1a1a;stroke-width:0.3px;">Myeong</text>
<text x="480.00" y="200.00" fill="#1a1a1a" style="font-size:12.8px;letter-spacing:-0.529px;stroke:#1a1a1a;stroke-width:0.3px;">Geun</text>
<text x="515.00" y="200.00" fill="#1a1a1a" style="font-size:12.8px;letter-spacing:-0.359px;stroke:#1a1a1a;stroke-width:0.3px;">Choi</text>
<text x="551.00" y="200.00" fill="#1a1a1a" style="font-size:12.8px;letter-spacing:-0.417px;stroke:#1a1a1a;stroke-width:0.3px;">and</text>
<text x="576.00" y="200.00" fill="#1a1a1a" style="font-size:12.8px;letter-spacing:-0.326px;stroke:#1a1a1a;stroke-width:0.3px;">Eun</text>
<text x="602.60" y="200.00" fill="#1a1a1a" style="font-size:12.8px;letter-spacing:0.740px;stroke:#1a1a1a;stroke-width:0.3px;">Mi</text>
<text x="622.00" y="200.00" fill="#1a1a1a" style="font-size:12.8px;letter-spacing:-0.492px;stroke:#1a1a1a;stroke-width:0.3px;">Chun</text>
<text transform="translate(321.20,195.20) scale(0.85,1)" fill="#1a1a1a" style="font-size:8.8px;letter-spacing:0.000px;stroke:#1a1a1a;stroke-width:0.25px;">1</text>
<text transform="translate(416.80,195.20) scale(0.85,1)" fill="#1a1a1a" style="font-size:8.8px;letter-spacing:0.000px;stroke:#1a1a1a;stroke-width:0.25px;">2</text>
<text transform="translate(541.00,195.20) scale(0.85,1)" fill="#1a1a1a" style="font-size:8.8px;letter-spacing:0.000px;stroke:#1a1a1a;stroke-width:0.25px;">3</text>
<text transform="translate(668.20,195.20) scale(0.85,1)" fill="#1a1a1a" style="font-size:8.8px;letter-spacing:0.000px;stroke:#1a1a1a;stroke-width:0.25px;">3</text>
<text x="906.60" y="93.80" fill="#727272" style="font-size:9.9px;letter-spacing:-0.613px;stroke:#727272;stroke-width:0.2px;">Check</text>
<text x="935.40" y="93.80" fill="#727272" style="font-size:9.9px;letter-spacing:-0.318px;stroke:#727272;stroke-width:0.2px;">for</text>
<text x="950.20" y="93.80" fill="#727272" style="font-size:9.9px;letter-spacing:-0.517px;stroke:#727272;stroke-width:0.2px;">updates</text>
<text transform="translate(75.00,729.00) scale(1.04,1)" fill="#0a0a0a" style="font-size:17.2px;letter-spacing:0.185px;font-weight:bold;stroke:#0a0a0a;stroke-width:0.45px;">Cumulative</text>
<text transform="translate(180.96,729.00) scale(1.04,1)" fill="#0a0a0a" style="font-size:17.2px;letter-spacing:0.110px;font-weight:bold;stroke:#0a0a0a;stroke-width:0.45px;">incidence</text>
<text transform="translate(272.71,729.00) scale(1.04,1)" fill="#0a0a0a" style="font-size:17.2px;letter-spacing:0.033px;font-weight:bold;stroke:#0a0a0a;stroke-width:0.45px;">rates</text>
<text transform="translate(325.50,729.00) scale(1.04,1)" fill="#0a0a0a" style="font-size:17.2px;letter-spacing:-1.355px;font-weight:bold;stroke:#0a0a0a;stroke-width:0.45px;">of</text>
<text transform="translate(351.46,729.00) scale(1.04,1)" fill="#0a0a0a" style="font-size:17.2px;letter-spacing:0.333px;font-weight:bold;stroke:#0a0a0a;stroke-width:0.45px;">mental</text>
<text transform="translate(421.25,729.00) scale(1.04,1)" fill="#0a0a0a" style="font-size:17.2px;letter-spacing:-0.256px;font-weight:bold;stroke:#0a0a0a;stroke-width:0.45px;">disorders</text>
<text transform="translate(511.25,729.00) scale(1.04,1)" fill="#0a0a0a" style="font-size:17.2px;letter-spacing:0.101px;font-weight:bold;stroke:#0a0a0a;stroke-width:0.45px;">following</text>
<text transform="translate(601.25,729.00) scale(1.04,1)" fill="#0a0a0a" style="font-size:17.2px;letter-spacing:-0.084px;font-weight:bold;stroke:#0a0a0a;stroke-width:0.45px;">COVID-19</text>
<text transform="translate(693.75,729.00) scale(1.04,1)" fill="#0a0a0a" style="font-size:17.2px;letter-spacing:-0.032px;font-weight:bold;stroke:#0a0a0a;stroke-width:0.45px;">vaccination</text>
<text transform="translate(802.00,729.00) scale(1.04,1)" fill="#0a0a0a" style="font-size:17.2px;letter-spacing:-0.169px;font-weight:bold;stroke:#0a0a0a;stroke-width:0.45px;">according</text>
<text transform="translate(896.25,729.00) scale(1.04,1)" fill="#0a0a0a" style="font-size:17.2px;letter-spacing:-0.099px;font-weight:bold;stroke:#0a0a0a;stroke-width:0.45px;">to</text>
<text transform="translate(923.75,729.00) scale(1.04,1)" fill="#0a0a0a" style="font-size:17.2px;letter-spacing:-0.402px;font-weight:bold;stroke:#0a0a0a;stroke-width:0.45px;">vaccine</text>
<text transform="translate(996.25,729.00) scale(1.04,1)" fill="#0a0a0a" style="font-size:17.2px;letter-spacing:0.261px;font-weight:bold;stroke:#0a0a0a;stroke-width:0.45px;">type.</text>
<text transform="translate(1049.25,729.00) scale(1.04,1)" fill="#0a0a0a" style="font-size:17.2px;letter-spacing:0.000px;font-weight:bold;stroke:#0a0a0a;stroke-width:0.45px;">a</text>
<text transform="translate(1068.00,729.00) scale(1.04,1)" fill="#0a0a0a" style="font-size:17.2px;letter-spacing:0.245px;stroke:#0a0a0a;stroke-width:0.35px;">Schizophrenia.</text>
<text transform="translate(13.21,749.00) scale(1.04,1)" fill="#0a0a0a" style="font-size:17.2px;letter-spacing:0.000px;font-weight:bold;stroke:#0a0a0a;stroke-width:0.45px;">b</text>
<text transform="translate(136.25,749.00) scale(1.04,1)" fill="#0a0a0a" style="font-size:17.2px;letter-spacing:0.000px;font-weight:bold;stroke:#0a0a0a;stroke-width:0.45px;">c</text>
<text transform="translate(293.75,749.00) scale(1.04,1)" fill="#0a0a0a" style="font-size:17.2px;letter-spacing:0.000px;font-weight:bold;stroke:#0a0a0a;stroke-width:0.45px;">d</text>
<text transform="translate(844.25,749.00) scale(1.04,1)" fill="#0a0a0a" style="font-size:17.2px;letter-spacing:0.000px;font-weight:bold;stroke:#0a0a0a;stroke-width:0.45px;">e</text>
<text transform="translate(992.00,749.00) scale(1.04,1)" fill="#0a0a0a" style="font-size:17.2px;letter-spacing:0.000px;font-weight:bold;stroke:#0a0a0a;stroke-width:0.45px;">f</text>
<text transform="translate(30.96,749.00) scale(1.04,1)" fill="#0a0a0a" style="font-size:17.2px;letter-spacing:0.189px;stroke:#0a0a0a;stroke-width:0.35px;">Depression.</text>
<text transform="translate(150.21,749.00) scale(1.04,1)" fill="#0a0a0a" style="font-size:17.2px;letter-spacing:0.218px;stroke:#0a0a0a;stroke-width:0.35px;">Bipolar</text>
<text transform="translate(216.25,749.00) scale(1.04,1)" fill="#0a0a0a" style="font-size:17.2px;letter-spacing:0.210px;stroke:#0a0a0a;stroke-width:0.35px;">disorder.</text>
<text transform="translate(312.00,749.00) scale(1.04,1)" fill="#0a0a0a" style="font-size:17.2px;letter-spacing:0.556px;stroke:#0a0a0a;stroke-width:0.35px;">Anxiety,</text>
<text transform="translate(385.00,749.00) scale(1.04,1)" fill="#0a0a0a" style="font-size:17.2px;letter-spacing:0.076px;stroke:#0a0a0a;stroke-width:0.35px;">dissociative,</text>
<text transform="translate(490.50,749.00) scale(1.04,1)" fill="#0a0a0a" style="font-size:17.2px;letter-spacing:-0.168px;stroke:#0a0a0a;stroke-width:0.35px;">stress-related,</text>
<text transform="translate(611.25,749.00) scale(1.04,1)" fill="#0a0a0a" style="font-size:17.2px;letter-spacing:0.364px;stroke:#0a0a0a;stroke-width:0.35px;">and</text>
<text transform="translate(650.00,749.00) scale(1.04,1)" fill="#0a0a0a" style="font-size:17.2px;letter-spacing:0.637px;stroke:#0a0a0a;stroke-width:0.35px;">somatoform</text>
<text transform="translate(758.00,749.00) scale(1.04,1)" fill="#0a0a0a" style="font-size:17.2px;letter-spacing:0.141px;stroke:#0a0a0a;stroke-width:0.35px;">disorders.</text>
<text transform="translate(862.00,749.00) scale(1.04,1)" fill="#0a0a0a" style="font-size:17.2px;letter-spacing:-0.514px;stroke:#0a0a0a;stroke-width:0.35px;">Sleep</text>
<text transform="translate(913.75,749.00) scale(1.04,1)" fill="#0a0a0a" style="font-size:17.2px;letter-spacing:0.180px;stroke:#0a0a0a;stroke-width:0.35px;">disorder.</text>
<text transform="translate(1004.50,749.00) scale(1.04,1)" fill="#0a0a0a" style="font-size:17.2px;letter-spacing:-0.155px;stroke:#0a0a0a;stroke-width:0.35px;">Sexual</text>
<text transform="translate(1065.75,749.00) scale(1.04,1)" fill="#0a0a0a" style="font-size:17.2px;letter-spacing:-0.046px;stroke:#0a0a0a;stroke-width:0.35px;">disorders.</text>
<text transform="translate(13.45,729.00) scale(0.8,1)" fill="#0a0a0a" style="font-size:17.2px;letter-spacing:0.097px;font-weight:bold;stroke:#0a0a0a;stroke-width:0.8px;">Fig.</text>
<text transform="translate(46.25,729.00) scale(0.8,1)" fill="#0a0a0a" style="font-size:17.2px;letter-spacing:0.000px;font-weight:bold;stroke:#0a0a0a;stroke-width:0.8px;">2</text>
</g>
</svg>
</body></html>
